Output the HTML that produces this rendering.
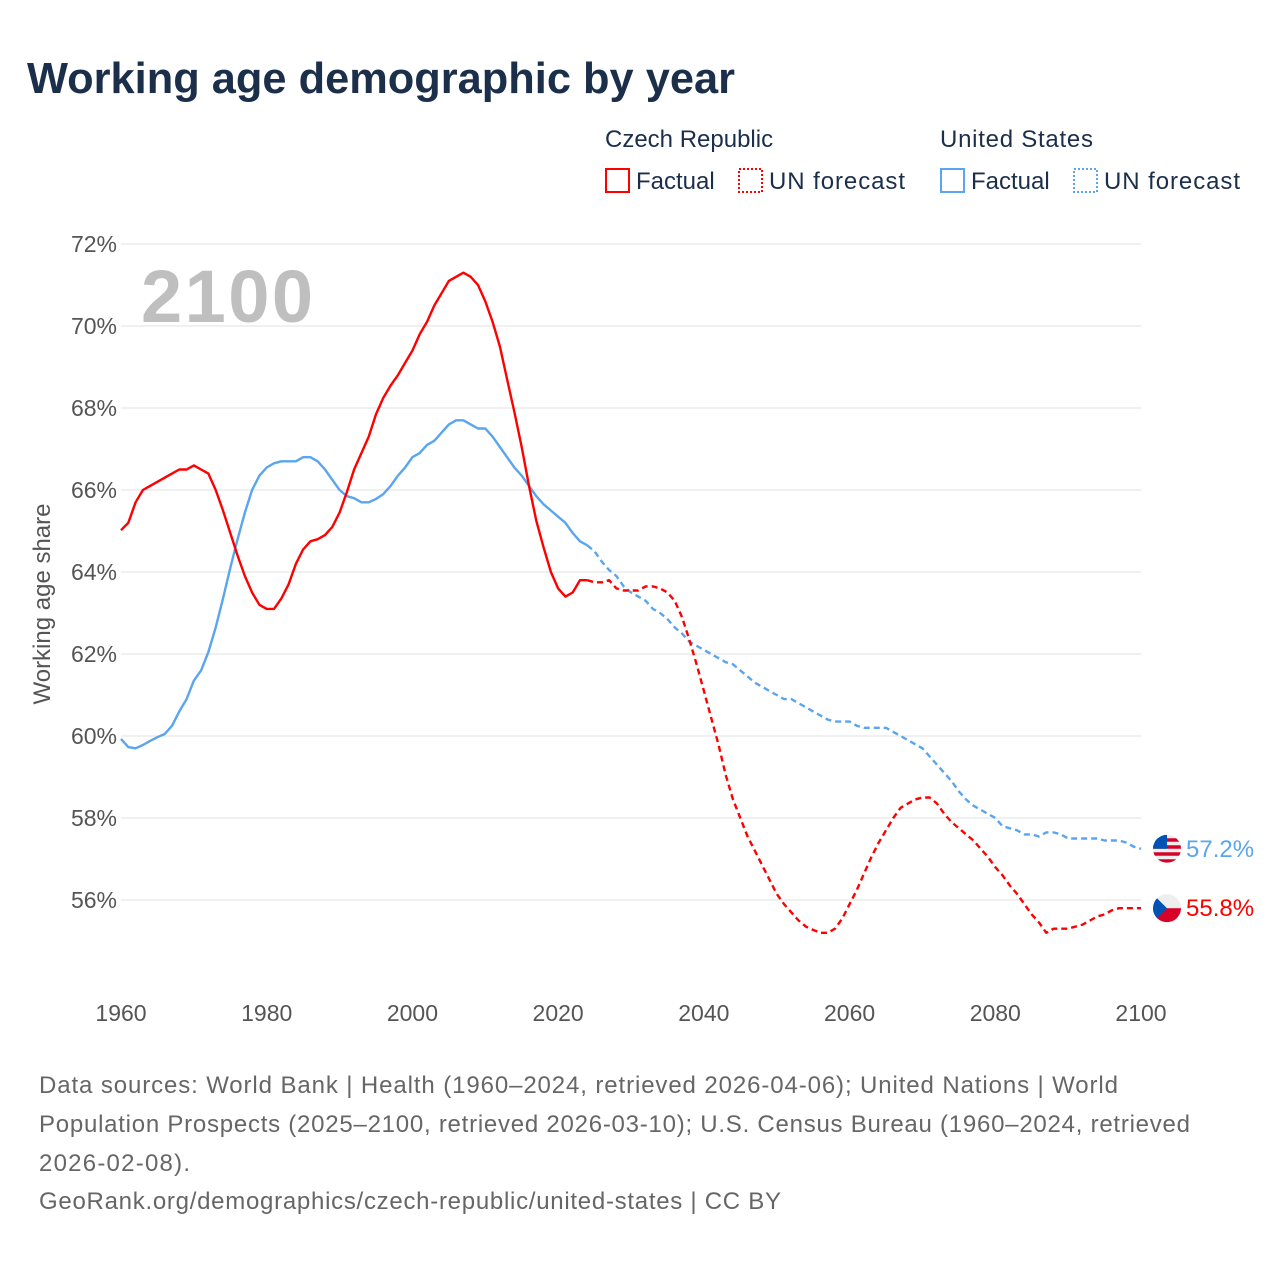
<!DOCTYPE html>
<html><head><meta charset="utf-8"><style>
body{margin:0;background:#fff;font-family:"Liberation Sans",sans-serif}
svg{display:block}
</style></head><body>
<svg id="chart" width="1280" height="1280" xmlns="http://www.w3.org/2000/svg" font-family="Liberation Sans, sans-serif">
<text x="27" y="93" font-size="44" font-weight="bold" fill="#1b2f4b" textLength="708" lengthAdjust="spacingAndGlyphs">Working age demographic by year</text>
<g font-size="24" fill="#1b2f4b">
<text x="605" y="147">Czech Republic</text>
<rect x="606" y="169" width="23" height="23" fill="none" stroke="#f00" stroke-width="2"/>
<text x="636" y="189">Factual</text>
<rect x="739" y="169" width="23" height="23" fill="none" stroke="#f00" stroke-width="2" stroke-dasharray="2,2"/>
<text x="769" y="189" textLength="136">UN forecast</text>
<text x="940" y="147" textLength="153">United States</text>
<rect x="941" y="169" width="23" height="23" fill="none" stroke="#5aa5ee" stroke-width="2"/>
<text x="971" y="189">Factual</text>
<rect x="1074" y="169" width="23" height="23" fill="none" stroke="#5aa5ee" stroke-width="2" stroke-dasharray="2,2"/>
<text x="1104" y="189" textLength="136">UN forecast</text>
</g>
<g id="grid"></g>
<text x="141" y="322" font-size="74" font-weight="bold" fill="#bfbfbf" textLength="172">2100</text>
<text transform="translate(50,604) rotate(-90)" text-anchor="middle" font-size="24" fill="#555">Working age share</text>
<g id="series"></g>
<g font-size="24" fill="#666">
<text x="39" y="1093" textLength="1079">Data sources: World Bank | Health (1960–2024, retrieved 2026-04-06); United Nations | World</text>
<text x="39" y="1132" textLength="1151">Population Prospects (2025–2100, retrieved 2026-03-10); U.S. Census Bureau (1960–2024, retrieved</text>
<text x="39" y="1171" textLength="151">2026-02-08).</text>
<text x="39" y="1209" textLength="742">GeoRank.org/demographics/czech-republic/united-states | CC BY</text>
</g>
</svg>
<script>
const yTicks=[56,58,60,62,64,66,68,70,72];
const xTicks=[1960,1980,2000,2020,2040,2060,2080,2100];
const czFactual=[65.02,65.2,65.7,66.0,66.1,66.2,66.3,66.4,66.5,66.5,66.6,66.5,66.4,66.0,65.5,64.95,64.4,63.9,63.5,63.2,63.1,63.1,63.35,63.7,64.2,64.55,64.75,64.8,64.9,65.1,65.45,65.95,66.5,66.9,67.3,67.85,68.25,68.55,68.8,69.1,69.4,69.8,70.1,70.5,70.8,71.1,71.2,71.3,71.2,71.0,70.6,70.1,69.5,68.7,67.9,67.05,66.1,65.25,64.6,64.0,63.6,63.4,63.5,63.8,63.8];
const czForecast=[63.8,63.75,63.75,63.8,63.6,63.55,63.55,63.55,63.65,63.65,63.6,63.5,63.3,62.9,62.35,61.75,61.1,60.45,59.8,59.05,58.45,58.0,57.55,57.2,56.85,56.5,56.15,55.9,55.7,55.5,55.35,55.27,55.2,55.2,55.3,55.55,55.9,56.25,56.65,57.05,57.4,57.7,58.0,58.25,58.35,58.45,58.5,58.5,58.35,58.1,57.9,57.75,57.6,57.45,57.25,57.05,56.8,56.6,56.35,56.15,55.9,55.65,55.45,55.2,55.3,55.3,55.3,55.35,55.4,55.5,55.6,55.65,55.75,55.8,55.8,55.8,55.8];
const usFactual=[59.93,59.73,59.7,59.78,59.88,59.97,60.05,60.25,60.6,60.9,61.35,61.6,62.05,62.65,63.35,64.1,64.8,65.45,66.0,66.35,66.55,66.65,66.7,66.7,66.7,66.8,66.8,66.7,66.5,66.25,66.0,65.85,65.8,65.7,65.7,65.78,65.9,66.1,66.35,66.55,66.8,66.9,67.1,67.2,67.4,67.6,67.7,67.7,67.6,67.5,67.5,67.3,67.05,66.8,66.55,66.35,66.1,65.85,65.65,65.5,65.35,65.2,64.95,64.75,64.65];
const usForecast=[64.65,64.5,64.25,64.05,63.9,63.65,63.5,63.4,63.3,63.1,63.0,62.85,62.65,62.5,62.3,62.2,62.1,62.0,61.9,61.8,61.75,61.6,61.45,61.3,61.2,61.1,61.0,60.9,60.9,60.8,60.7,60.6,60.5,60.4,60.35,60.35,60.35,60.25,60.2,60.2,60.2,60.2,60.1,60.0,59.9,59.8,59.7,59.5,59.3,59.1,58.9,58.65,58.45,58.3,58.2,58.1,58.0,57.8,57.75,57.7,57.6,57.6,57.55,57.65,57.65,57.6,57.5,57.5,57.5,57.5,57.5,57.45,57.45,57.45,57.4,57.3,57.25];
const endLabels=["57.2%","55.8%"];
const X=y=>121+(y-1960)*(1020/140);
const Y=v=>244+(72-v)*41;
const NS="http://www.w3.org/2000/svg";
const grid=document.getElementById('grid'),ser=document.getElementById('series');
function mk(tag,attrs,parent){const e=document.createElementNS(NS,tag);for(const k in attrs)e.setAttribute(k,attrs[k]);parent.appendChild(e);return e;}
yTicks.forEach(t=>{
 const l=mk('line',{x1:121,x2:1141,y1:Y(t),y2:Y(t),stroke:'#e6e6e6','stroke-width':1.3},grid);
 
 
 const tx=mk('text',{x:117,y:Y(t)+8,'text-anchor':'end','font-size':23,fill:'#555'},grid);
 tx.textContent=t+'%';
 
 
});
xTicks.forEach(t=>{
 const tx=mk('text',{x:X(t),y:1021,'text-anchor':'middle','font-size':23,fill:'#555'},grid);
 tx.textContent=t;
 
 
});
function line(arr,start,color,dash,name){
 const d=arr.map((v,i)=>(i?'L':'M')+X(start+i).toFixed(1)+','+Y(v).toFixed(1)).join('');
 const p=mk('path',{d:d,fill:'none',stroke:color,'stroke-width':2.4,'stroke-linejoin':'round'},ser);
 if(dash)p.setAttribute('stroke-dasharray','6,4');
 
 
}
line(usForecast,2024,'#5aa5ee',true,'us-forecast-line');
line(czForecast,2024,'#f00',true,'czech-forecast-line');
line(usFactual,1960,'#5aa5ee',false,'us-factual-line');
line(czFactual,1960,'#f00',false,'czech-factual-line');
const uy=Y(usForecast[usForecast.length-1]),cy=Y(czForecast[czForecast.length-1]);
const ug=mk('g',{},ser);


mk('clipPath',{id:'cu'},ug).appendChild(document.createElementNS(NS,'circle'));
const c1=document.querySelector('#cu circle');c1.setAttribute('cx',1167);c1.setAttribute('cy',uy);c1.setAttribute('r',14);
const ugc=mk('g',{'clip-path':'url(#cu)'},ug);
mk('rect',{x:1153,y:uy-14,width:28,height:28,fill:'#eee'},ugc);
for(let i=0;i<4;i++)mk('rect',{x:1153,y:uy-14+i*7+3.5,width:28,height:3.5,fill:'#d80027'},ugc);
mk('rect',{x:1153,y:uy-14,width:14,height:14,fill:'#0052b4'},ugc);
const ul=mk('text',{x:1186,y:uy+8,'font-size':24,fill:'#5aa5ee'},ser);ul.textContent=endLabels[0];


const cg=mk('g',{},ser);


mk('clipPath',{id:'cc'},cg).appendChild(document.createElementNS(NS,'circle'));
const c2=document.querySelector('#cc circle');c2.setAttribute('cx',1167);c2.setAttribute('cy',cy);c2.setAttribute('r',14);
const cgc=mk('g',{'clip-path':'url(#cc)'},cg);
mk('rect',{x:1153,y:cy-14,width:28,height:14,fill:'#eee'},cgc);
mk('rect',{x:1153,y:cy,width:28,height:14,fill:'#d80027'},cgc);
mk('path',{d:`M1153,${cy-14}L1167,${cy}L1153,${cy+14}Z`,fill:'#0052b4'},cgc);
const cl=mk('text',{x:1186,y:cy+8,'font-size':24,fill:'#f00'},ser);cl.textContent=endLabels[1];


</script>
</body></html>
